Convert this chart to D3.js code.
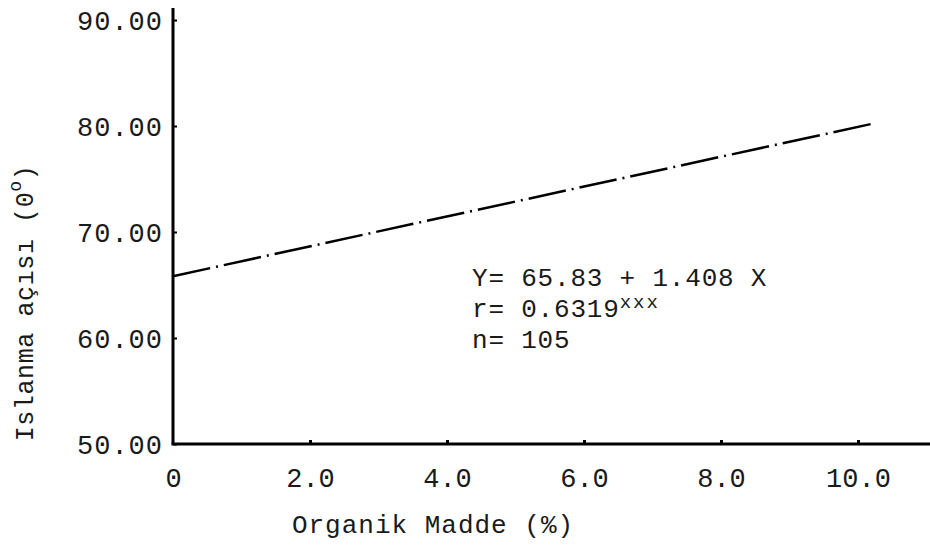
<!DOCTYPE html>
<html>
<head>
<meta charset="utf-8">
<script src="https://cdn.jsdelivr.net/npm/d3@7"></script>
<style>
  html, body { margin: 0; padding: 0; background: #fff; }
  text { font-family: "Liberation Mono", "DejaVu Sans Mono", monospace; fill: #1a1a1a; }
</style>
</head>
<body>
<svg id="chart" width="930" height="551"></svg>
<script>
// ---- data ----
const xTickValues = [0, 2, 4, 6, 8, 10];
const xTickLabels = ["0", "2.0", "4.0", "6.0", "8.0", "10.0"];
const yTickValues = [50, 60, 70, 80, 90];
const yTickLabels = ["50.00", "60.00", "70.00", "80.00", "90.00"];
const lineX = [0, 10.2];
const lineY = [65.83, 80.2];
const equationLines = ["Y= 65.83 + 1.408 X", "r= 0.6319", "n= 105"];
const xTitle = "Organik Madde (%)";
const yTitle = "Islanma açısı (0";

// ---- layout ----
const svg = d3.select("#chart");
const x = d3.scaleLinear().domain([0, 10]).range([173, 858]);
const y = d3.scaleLinear().domain([50, 90]).range([444, 20]);

// axes lines
svg.append("line").attr("x1", x(0)).attr("x2", x(0)).attr("y1", 8).attr("y2", y(50))
  .attr("stroke", "#000").attr("stroke-width", 3);
svg.append("line").attr("x1", x(0) - 1.5).attr("x2", 930).attr("y1", y(50)).attr("y2", y(50))
  .attr("stroke", "#000").attr("stroke-width", 3);

// y axis ticks + labels
const yAxis = d3.axisLeft(y).tickValues(yTickValues)
  .tickFormat((d, i) => yTickLabels[i]).tickSize(-4).tickPadding(10);
const gy = svg.append("g").attr("transform", `translate(${x(0)},0)`).call(yAxis);
gy.select(".domain").remove();
gy.selectAll(".tick line").attr("stroke", "#000").attr("stroke-width", 2);
gy.selectAll(".tick text").attr("font-size", 27).attr("letter-spacing", 1)
  .attr("dy", "0.35em").style("font-family", "'Liberation Mono', monospace");

// x axis ticks + labels
const xAxis = d3.axisBottom(x).tickValues(xTickValues)
  .tickFormat((d, i) => xTickLabels[i]).tickSize(-4).tickPadding(24);
const gx = svg.append("g").attr("transform", `translate(0,${y(50)})`).call(xAxis);
gx.select(".domain").remove();
gx.selectAll(".tick line").attr("stroke", "#000").attr("stroke-width", 3);
gx.selectAll(".tick text").attr("font-size", 27)
  .style("font-family", "'Liberation Mono', monospace");
gx.selectAll(".tick").filter(d => d === 0).select("line").remove();

// regression line (dash-dot)
const lineData = lineX.map((d, i) => [d, lineY[i]]);
svg.append("path")
  .datum(lineData)
  .attr("d", d3.line().x(d => x(d[0])).y(d => y(d[1])))
  .attr("fill", "none").attr("stroke", "#000").attr("stroke-width", 2.5)
  .attr("stroke-dasharray", "38,6,2,6");

// equation text
const eq = svg.append("g").attr("transform", "translate(472,286)");
equationLines.forEach((t, i) => {
  const tx = eq.append("text").attr("x", 0).attr("y", i * 31).attr("font-size", 26)
    .attr("letter-spacing", 0.8).text(t);
  if (i === 1) {
    tx.append("tspan").attr("font-size", 19).attr("dy", -9).attr("letter-spacing", 2).text("xxx");
  }
});

// x title
svg.append("text").attr("x", 433).attr("y", 533).attr("text-anchor", "middle")
  .attr("font-size", 26).attr("letter-spacing", 1).text(xTitle);

// y title
const yt = svg.append("text")
  .attr("transform", "translate(33,303) rotate(-90)")
  .attr("text-anchor", "middle").attr("font-size", 25).attr("letter-spacing", 0.6);
yt.append("tspan").text(yTitle);
yt.append("tspan").attr("font-size", 18).attr("dy", -12).text("o");
yt.append("tspan").attr("dy", 12).text(")");
</script>
</body>
</html>
